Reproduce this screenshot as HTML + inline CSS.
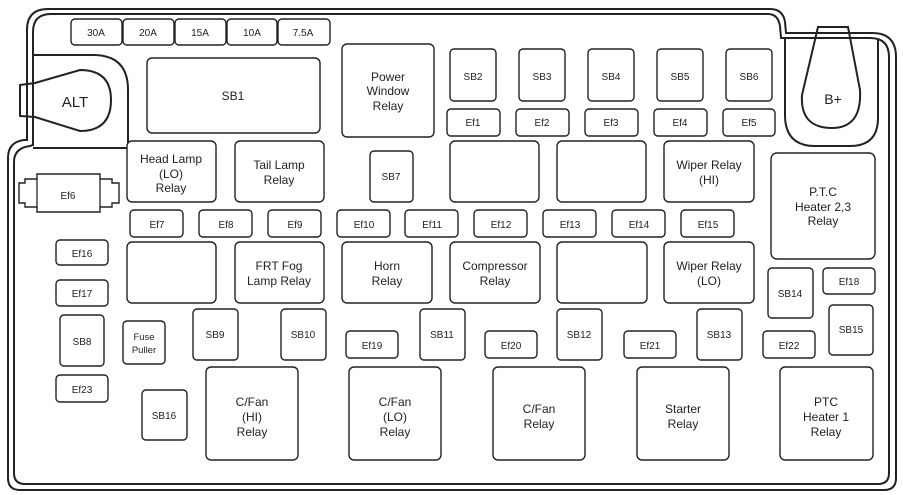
<!DOCTYPE html>
<html><head><style>
html,body{margin:0;padding:0;background:#fff;}
svg{display:block;}
text{font-family:"Liberation Sans",sans-serif;fill:#222;text-anchor:middle;}
.b{fill:#fff;stroke:#222;stroke-width:1.4;}
.l{fill:none;stroke:#222;stroke-width:2;}
</style></head><body>
<svg width="903" height="495" viewBox="0 0 903 495" xmlns="http://www.w3.org/2000/svg">
<!-- outer double outline -->
<path class="l" stroke-width="2.6" d="M27 140 L27 30 Q27 9 48 9 L770 9 Q783 9 785 22 L786 33 L872 33 Q896 33 896 57 L896 478 Q896 490 884 490 L20 490 Q8 490 8 478 L8 158 Q8 142 24 140 Z"/>
<path class="l" d="M33 145 L33 32 Q33 14 51 14 L768 14 Q778 14 780 26 L781 38 L870 38 Q889 38 889 57 L889 473 Q889 484 878 484 L25 484 Q14 484 14 473 L14 162 Q14 148 30 146 Z"/>
<!-- ALT pocket -->
<path class="l" stroke-width="1.5" d="M33 55 L93 55 Q128 55 128 90 L128 148 L33 148"/>
<path class="l" stroke-width="1.5" d="M20 85 L35 83 L80 70 Q111 70 111 100 Q111 131 80 131 L35 117 L20 116 Z"/>
<line x1="27" y1="84" x2="27" y2="117" stroke="#222" stroke-width="1.3"/>
<text x="75" y="107" font-size="15">ALT</text>
<!-- B+ pocket -->
<path class="l" stroke-width="1.5" d="M785 38 L785 115 Q785 146 815 146 L850 146 Q878 146 878 118 L878 40"/>
<path class="l" stroke-width="1.5" d="M818 27 L848 27 L860 90 Q862 128 832 128 Q800 128 802 95 Z"/>
<line x1="818" y1="33" x2="848" y2="33" stroke="#222" stroke-width="1.3"/>
<text x="833" y="104" font-size="14">B+</text>
<!-- Ef6 -->
<path class="b" d="M19 183 L25 183 L25 179 L37 179 L37 174 L100 174 L100 179 L112 179 L112 183 L119 183 L119 203 L112 203 L112 207 L100 207 L100 212 L37 212 L37 207 L25 207 L25 203 L19 203 Z"/>
<line x1="37" y1="179" x2="37" y2="207" stroke="#222" stroke-width="1.3"/>
<line x1="100" y1="179" x2="100" y2="207" stroke="#222" stroke-width="1.3"/>
<text x="68" y="199" font-size="10">Ef6</text>

<g font-size="10">
<!-- top fuses -->
<rect class="b" x="71" y="19" width="51" height="26" rx="4"/><text x="96" y="36">30A</text>
<rect class="b" x="123" y="19" width="51" height="26" rx="4"/><text x="148" y="36">20A</text>
<rect class="b" x="175" y="19" width="51" height="26" rx="4"/><text x="200" y="36">15A</text>
<rect class="b" x="227" y="19" width="50" height="26" rx="4"/><text x="252" y="36">10A</text>
<rect class="b" x="278" y="19" width="52" height="26" rx="4"/><text x="303" y="36">7.5A</text>
<!-- SB2-6 -->
<rect class="b" x="450" y="49" width="46" height="52" rx="4"/><text x="473" y="80">SB2</text>
<rect class="b" x="519" y="49" width="46" height="52" rx="4"/><text x="542" y="80">SB3</text>
<rect class="b" x="588" y="49" width="46" height="52" rx="4"/><text x="611" y="80">SB4</text>
<rect class="b" x="657" y="49" width="46" height="52" rx="4"/><text x="680" y="80">SB5</text>
<rect class="b" x="726" y="49" width="46" height="52" rx="4"/><text x="749" y="80">SB6</text>
<!-- Ef1-5 -->
<rect class="b" x="447" y="109" width="53" height="27" rx="4"/><text x="473" y="126">Ef1</text>
<rect class="b" x="516" y="109" width="53" height="27" rx="4"/><text x="542" y="126">Ef2</text>
<rect class="b" x="585" y="109" width="53" height="27" rx="4"/><text x="611" y="126">Ef3</text>
<rect class="b" x="654" y="109" width="53" height="27" rx="4"/><text x="680" y="126">Ef4</text>
<rect class="b" x="723" y="109" width="52" height="27" rx="4"/><text x="749" y="126">Ef5</text>
<!-- Ef7-15 -->
<rect class="b" x="130" y="210" width="53" height="27" rx="4"/><text x="157" y="228">Ef7</text>
<rect class="b" x="199" y="210" width="53" height="27" rx="4"/><text x="226" y="228">Ef8</text>
<rect class="b" x="268" y="210" width="53" height="27" rx="4"/><text x="295" y="228">Ef9</text>
<rect class="b" x="337" y="210" width="53" height="27" rx="4"/><text x="364" y="228">Ef10</text>
<rect class="b" x="405" y="210" width="53" height="27" rx="4"/><text x="432" y="228">Ef11</text>
<rect class="b" x="474" y="210" width="53" height="27" rx="4"/><text x="501" y="228">Ef12</text>
<rect class="b" x="543" y="210" width="53" height="27" rx="4"/><text x="570" y="228">Ef13</text>
<rect class="b" x="612" y="210" width="53" height="27" rx="4"/><text x="639" y="228">Ef14</text>
<rect class="b" x="681" y="210" width="53" height="27" rx="4"/><text x="708" y="228">Ef15</text>
<!-- left column -->
<rect class="b" x="56" y="240" width="52" height="25" rx="4"/><text x="82" y="257">Ef16</text>
<rect class="b" x="56" y="280" width="52" height="26" rx="4"/><text x="82" y="297">Ef17</text>
<rect class="b" x="60" y="315" width="44" height="51" rx="4"/><text x="82" y="345">SB8</text>
<rect class="b" x="56" y="375" width="52" height="27" rx="4"/><text x="82" y="393">Ef23</text>
<rect class="b" x="123" y="321" width="42" height="43" rx="4"/><text x="144" y="340" font-size="9.5">Fuse</text><text x="144" y="353" font-size="9.5">Puller</text>
<rect class="b" x="142" y="390" width="45" height="50" rx="4"/><text x="164" y="419">SB16</text>
<!-- SB9-13 -->
<rect class="b" x="193" y="309" width="45" height="51" rx="4"/><text x="215" y="338">SB9</text>
<rect class="b" x="281" y="309" width="45" height="51" rx="4"/><text x="303" y="338">SB10</text>
<rect class="b" x="420" y="309" width="45" height="51" rx="4"/><text x="442" y="338">SB11</text>
<rect class="b" x="557" y="309" width="45" height="51" rx="4"/><text x="579" y="338">SB12</text>
<rect class="b" x="697" y="309" width="45" height="51" rx="4"/><text x="719" y="338">SB13</text>
<!-- Ef19-22 -->
<rect class="b" x="346" y="331" width="52" height="27" rx="4"/><text x="372" y="349">Ef19</text>
<rect class="b" x="485" y="331" width="52" height="27" rx="4"/><text x="511" y="349">Ef20</text>
<rect class="b" x="624" y="331" width="52" height="27" rx="4"/><text x="650" y="349">Ef21</text>
<rect class="b" x="763" y="331" width="52" height="27" rx="4"/><text x="789" y="349">Ef22</text>
<!-- right -->
<rect class="b" x="768" y="268" width="45" height="50" rx="4"/><text x="790" y="297">SB14</text>
<rect class="b" x="823" y="268" width="52" height="26" rx="4"/><text x="849" y="285">Ef18</text>
<rect class="b" x="829" y="305" width="44" height="50" rx="4"/><text x="851" y="333">SB15</text>
<rect class="b" x="370" y="151" width="43" height="51" rx="4"/><text x="391" y="180">SB7</text>
</g>

<g font-size="12">
<rect class="b" x="147" y="58" width="173" height="75" rx="5"/><text x="233" y="100">SB1</text>
<rect class="b" x="342" y="44" width="92" height="93" rx="5"/><text x="388" y="81">Power</text><text x="388" y="95">Window</text><text x="388" y="110">Relay</text>
<rect class="b" x="127" y="141" width="89" height="61" rx="5"/><text x="171" y="163">Head Lamp</text><text x="171" y="178">(LO)</text><text x="171" y="192">Relay</text>
<rect class="b" x="235" y="141" width="89" height="61" rx="5"/><text x="279" y="169">Tail Lamp</text><text x="279" y="184">Relay</text>
<rect class="b" x="450" y="141" width="89" height="61" rx="5"/>
<rect class="b" x="557" y="141" width="89" height="61" rx="5"/>
<rect class="b" x="664" y="141" width="90" height="61" rx="5"/><text x="709" y="169">Wiper Relay</text><text x="709" y="184">(HI)</text>
<rect class="b" x="771" y="153" width="104" height="106" rx="6"/><text x="823" y="196">P.T.C</text><text x="823" y="211">Heater 2,3</text><text x="823" y="225">Relay</text>
<rect class="b" x="127" y="242" width="89" height="61" rx="5"/>
<rect class="b" x="235" y="242" width="89" height="61" rx="5"/><text x="279" y="270">FRT Fog</text><text x="279" y="285">Lamp Relay</text>
<rect class="b" x="342" y="242" width="90" height="61" rx="5"/><text x="387" y="270">Horn</text><text x="387" y="285">Relay</text>
<rect class="b" x="450" y="242" width="90" height="61" rx="5"/><text x="495" y="270">Compressor</text><text x="495" y="285">Relay</text>
<rect class="b" x="557" y="242" width="90" height="61" rx="5"/>
<rect class="b" x="664" y="242" width="90" height="61" rx="5"/><text x="709" y="270">Wiper Relay</text><text x="709" y="285">(LO)</text>
<rect class="b" x="206" y="367" width="92" height="93" rx="5"/><text x="252" y="406">C/Fan</text><text x="252" y="421">(HI)</text><text x="252" y="436">Relay</text>
<rect class="b" x="349" y="367" width="92" height="93" rx="5"/><text x="395" y="406">C/Fan</text><text x="395" y="421">(LO)</text><text x="395" y="436">Relay</text>
<rect class="b" x="493" y="367" width="92" height="93" rx="5"/><text x="539" y="413">C/Fan</text><text x="539" y="428">Relay</text>
<rect class="b" x="637" y="367" width="92" height="93" rx="5"/><text x="683" y="413">Starter</text><text x="683" y="428">Relay</text>
<rect class="b" x="780" y="367" width="93" height="93" rx="5"/><text x="826" y="406">PTC</text><text x="826" y="421">Heater 1</text><text x="826" y="436">Relay</text>
</g>
</svg>
</body></html>
